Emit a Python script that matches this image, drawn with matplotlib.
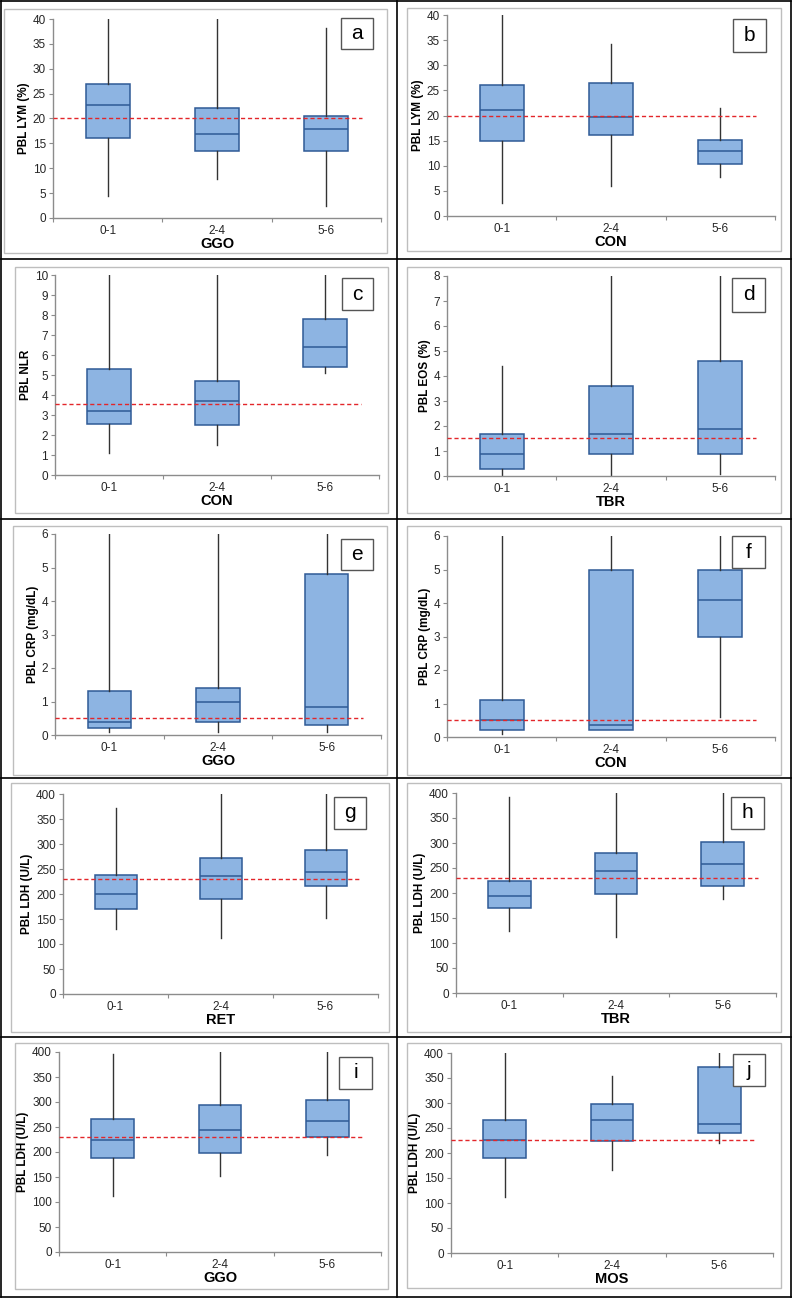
import matplotlib
matplotlib.use("Agg")
import matplotlib.pyplot as plt
from matplotlib.patches import Rectangle
from matplotlib.lines import Line2D

plt.rcParams['font.family'] = ['Liberation Sans', 'DejaVu Sans']

W, H = 795, 1305

groups = ['0-1', '2-4', '5-6']
panel_letters = ['a', 'b', 'c', 'd', 'e', 'f', 'g', 'h', 'i', 'j']
x_titles = ['GGO', 'CON', 'CON', 'TBR', 'GGO', 'CON', 'RET', 'TBR', 'GGO', 'MOS']
y_titles = ['PBL LYM (%)', 'PBL LYM (%)', 'PBL NLR', 'PBL EOS (%)',
            'PBL CRP (mg/dL)', 'PBL CRP (mg/dL)', 'PBL LDH (U/L)',
            'PBL LDH (U/L)', 'PBL LDH (U/L)', 'PBL LDH (U/L)']
y_max = [40, 40, 10, 8, 6, 6, 400, 400, 400, 400]
y_step = [5, 5, 1, 1, 1, 1, 50, 50, 50, 50]
ref_lines = [20, 20, 3.55, 1.52, 0.5, 0.5, 230, 230, 230, 227]

# per panel: [group 0-1, 2-4, 5-6], each (low whisker, q1, median, q3, high whisker)
lym_ggo = [(4.5, 16, 22.7, 27, 40), (7.8, 13.5, 16.8, 22.1, 40), (2.5, 13.5, 17.8, 20.6, 38.2)]
lym_con = [(2.5, 15, 21, 26.1, 40), (6, 16.2, 19.8, 26.4, 34.2), (7.8, 10.4, 13, 15.2, 21.5)]
nlr_con = [(1.1, 2.55, 3.2, 5.3, 10), (1.5, 2.5, 3.7, 4.7, 10), (5.1, 5.4, 6.4, 7.8, 10)]
eos_tbr = [(0, 0.3, 0.9, 1.7, 4.4), (0, 0.9, 1.7, 3.6, 8), (0.1, 0.9, 1.9, 4.6, 8)]
crp_ggo = [(0.1, 0.2, 0.4, 1.3, 6), (0.1, 0.4, 1.0, 1.4, 6), (0.1, 0.3, 0.85, 4.8, 6)]
crp_con = [(0.1, 0.2, 0.5, 1.1, 6), (0.2, 0.2, 0.35, 5.0, 6), (0.6, 3.0, 4.1, 5.0, 6)]
ldh_ret = [(130, 171, 200, 238, 372), (113, 190, 236, 272, 400), (153, 216, 245, 288, 400)]
ldh_tbr = [(125, 171, 195, 225, 393), (113, 199, 245, 280, 400), (188, 215, 259, 303, 400)]
ldh_ggo = [(113, 188, 224, 266, 397), (153, 199, 244, 294, 400), (194, 231, 262, 305, 400)]
ldh_mos = [(113, 190, 226, 266, 400), (167, 225, 267, 298, 354), (220, 240, 259, 373, 400)]
panel_data = [lym_ggo, lym_con, nlr_con, eos_tbr, crp_ggo, crp_con,
              ldh_ret, ldh_tbr, ldh_ggo, ldh_mos]

# layout in pixels: axes (y-axis x, top y, right x, zero y)
axes_px = [(53, 19, 381, 218), (447, 15, 775, 216),
           (55, 275, 379, 475), (447, 276, 775, 476),
           (55, 534, 381, 735), (447, 536, 775, 737),
           (63, 794, 378, 994), (456, 793, 776, 993),
           (59, 1052, 381, 1252), (451, 1053, 773, 1253)]
frame_px = [(4, 9, 387, 253), (407, 8, 781, 251),
            (15, 267, 388, 513), (407, 267, 781, 513),
            (13, 526, 387, 775), (407, 526, 781, 775),
            (11, 783, 389, 1032), (407, 783, 781, 1032),
            (15, 1043, 388, 1289), (407, 1043, 781, 1288)]
letter_px = [(341, 18, 373, 49), (733, 19, 766, 52),
             (342, 278, 373, 310), (732, 278, 765, 312),
             (341, 539, 373, 570), (732, 536, 765, 568),
             (334, 797, 366, 829), (731, 797, 764, 829),
             (339, 1057, 372, 1089), (733, 1054, 765, 1086)]

fill_c = '#8DB4E2'
edge_c = '#2F5A96'
axis_c = '#8C8C8C'

fig = plt.figure(figsize=(W / 100, H / 100), dpi=100)


def fx(x):
    return x / W


def fy(y):
    return 1 - y / H


for i in range(10):
    x0, yt, xr, yz = axes_px[i]
    ax = fig.add_axes([fx(x0), fy(yz), fx(xr - x0), (yz - yt) / H])
    stats = []
    for g, (lo, q1, med, q3, hi) in zip(groups, panel_data[i]):
        stats.append({'label': g, 'whislo': lo, 'q1': q1, 'med': med,
                      'q3': q3, 'whishi': hi})
    ax.bxp(stats, positions=[0, 1, 2], widths=0.4, showcaps=False,
           showfliers=False, patch_artist=True,
           boxprops=dict(facecolor=fill_c, edgecolor=edge_c, linewidth=1.1),
           medianprops=dict(color=edge_c, linewidth=1.1),
           whiskerprops=dict(color='#333333', linewidth=1.0))
    ax.plot([-0.5, 2.33], [ref_lines[i], ref_lines[i]], color='#E3262A',
            linestyle=(0, (3, 2)), linewidth=1.0, zorder=5)
    ax.set_xlim(-0.5, 2.5)
    ax.set_ylim(0, y_max[i])
    yt_vals = list(range(0, y_max[i] + 1, y_step[i]))
    ax.set_yticks(yt_vals)
    ax.set_xticks([-0.5, 0.5, 1.5, 2.5])
    ax.set_xticklabels([])
    ax.set_xticks([0, 1, 2], minor=True)
    ax.set_xticklabels(groups, minor=True)
    ax.tick_params(axis='x', which='major', length=3, color=axis_c, direction='out')
    ax.tick_params(axis='x', which='minor', length=0, pad=5, labelsize=8.5,
                   labelcolor='#262626')
    ax.tick_params(axis='y', length=3, color=axis_c, direction='out', pad=2,
                   labelsize=8.5, labelcolor='#262626')
    for s in ['top', 'right']:
        ax.spines[s].set_visible(False)
    for s in ['left', 'bottom']:
        ax.spines[s].set_color(axis_c)
        ax.spines[s].set_linewidth(1.0)
    ax.set_facecolor('none')
    ax.set_ylabel(y_titles[i], fontsize=8.5, fontweight='bold', labelpad=2)
    ax.set_xlabel(x_titles[i], fontsize=10.5, fontweight='bold', labelpad=0)

    # grey chart frame
    l, t, r, b = frame_px[i]
    fig.add_artist(Rectangle((fx(l), fy(b)), fx(r - l), (b - t) / H,
                             transform=fig.transFigure, fill=False,
                             edgecolor='#BEBEBE', linewidth=1.0, zorder=0))
    # letter box
    l, t, r, b = letter_px[i]
    fig.add_artist(Rectangle((fx(l), fy(b)), fx(r - l), (b - t) / H,
                             transform=fig.transFigure, facecolor='white',
                             edgecolor='#555555', linewidth=1.0, zorder=10))
    fig.text(fx((l + r) / 2), fy((t + b) / 2), panel_letters[i], fontsize=15,
             ha='center', va='center', zorder=11)

# table borders
for y in [1, 259, 519, 778, 1037, 1297]:
    fig.add_artist(Line2D([fx(1), fx(791)], [fy(y), fy(y)],
                          transform=fig.transFigure, color='black', linewidth=1.2))
for x in [1, 397, 791]:
    fig.add_artist(Line2D([fx(x), fx(x)], [fy(1), fy(1297)],
                          transform=fig.transFigure, color='black', linewidth=1.2))

fig.savefig('out.png', dpi=100)
